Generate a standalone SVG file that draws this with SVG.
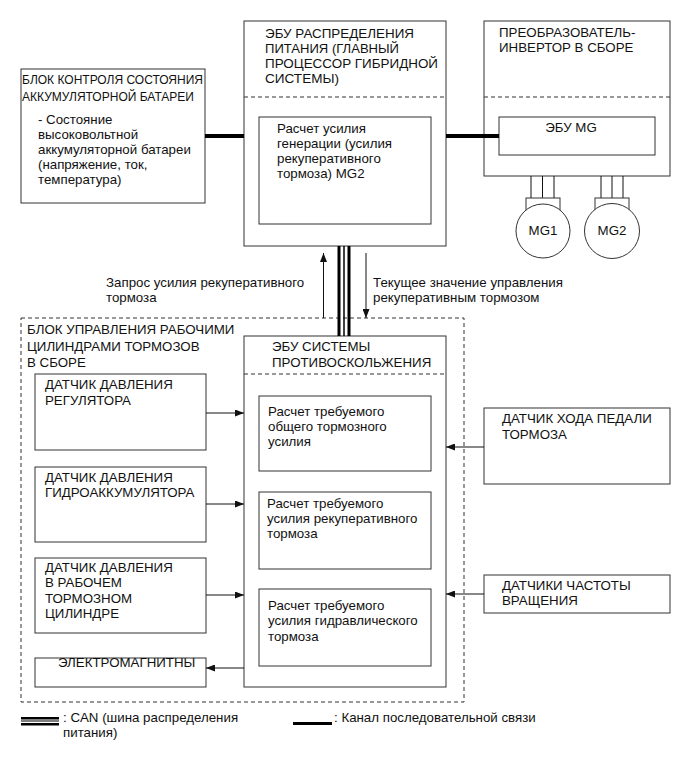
<svg xmlns="http://www.w3.org/2000/svg" width="691" height="757" viewBox="0 0 691 757">
<style>
.box{fill:#fff;stroke:#333;stroke-width:1}
.dl{fill:none;stroke:#333;stroke-width:1;stroke-dasharray:4 3}
text{font-family:"Liberation Sans",Arial,sans-serif;font-size:13.3px;fill:#111}
.mid{text-anchor:middle}
.ln{stroke:#111;stroke-width:1;fill:none}
.arr{stroke:#111;stroke-width:1;fill:none;marker-end:url(#ah)}
.serial{stroke:#000;stroke-width:4;fill:none}
.canT{stroke:#000;stroke-width:3;fill:none}
.cant{stroke:#000;stroke-width:1.5;fill:none}
</style>
<defs>
<marker id="ah" markerUnits="userSpaceOnUse" markerWidth="9" markerHeight="7" refX="9" refY="3.5" orient="auto">
<path d="M0,0 L9,3.5 L0,7 z" fill="#111"/>
</marker>
</defs>
<rect width="691" height="757" fill="#fff"/>

<g id="brake-block">
<rect class="dl" x="21" y="318" width="443" height="384"/>
<text x="27" y="334">БЛОК УПРАВЛЕНИЯ РАБОЧИМИ</text>
<text x="27" y="351">ЦИЛИНДРАМИ ТОРМОЗОВ</text>
<text x="27" y="367">В СБОРЕ</text>
</g>

<g id="battery">
<rect class="box" x="21" y="69" width="184" height="134"/>
<text x="22" y="84" textLength="181" lengthAdjust="spacingAndGlyphs">БЛОК КОНТРОЛЯ СОСТОЯНИЯ</text>
<text x="22" y="101" textLength="172" lengthAdjust="spacingAndGlyphs">АККУМУЛЯТОРНОЙ БАТАРЕИ</text>
<text x="38" y="124">- Состояние</text>
<text x="38" y="139">высоковольтной</text>
<text x="38" y="154">аккумуляторной батареи</text>
<text x="38" y="169">(напряжение, ток,</text>
<text x="38" y="184">температура)</text>
</g>

<g id="ecu-power">
<rect class="box" x="244" y="21" width="202" height="225"/>
<text x="265" y="38" textLength="149" lengthAdjust="spacingAndGlyphs">ЭБУ РАСПРЕДЕЛЕНИЯ</text>
<text x="265" y="53" textLength="134" lengthAdjust="spacingAndGlyphs">ПИТАНИЯ (ГЛАВНЫЙ</text>
<text x="265" y="68" textLength="173" lengthAdjust="spacingAndGlyphs">ПРОЦЕССОР ГИБРИДНОЙ</text>
<text x="265" y="83" textLength="74" lengthAdjust="spacingAndGlyphs">СИСТЕМЫ)</text>
<line class="dl" x1="244" y1="97" x2="446" y2="97"/>
<rect class="box" x="259" y="117" width="172" height="107"/>
<text x="277" y="133">Расчет усилия</text>
<text x="277" y="148">генерации (усилия</text>
<text x="277" y="163">рекуперативного</text>
<text x="277" y="178">тормоза) MG2</text>
</g>

<g id="inverter">
<rect class="box" x="484" y="21" width="186" height="155"/>
<text x="499" y="37">ПРЕОБРАЗОВАТЕЛЬ-</text>
<text x="499" y="52">ИНВЕРТОР В СБОРЕ</text>
<line class="dl" x1="484" y1="97" x2="670" y2="97"/>
<rect class="box" x="499" y="117" width="156" height="38"/>
<text class="mid" x="571" y="132">ЭБУ MG</text>
</g>

<g id="mg1">
<line class="ln" x1="531" y1="176" x2="531" y2="198"/>
<line class="ln" x1="542.5" y1="176" x2="542.5" y2="198"/>
<line class="ln" x1="554" y1="176" x2="554" y2="198"/>
<rect class="box" x="526" y="198" width="34" height="14"/>
<circle class="box" cx="543" cy="231" r="27"/>
<text class="mid" x="543" y="235">MG1</text>
</g>

<g id="mg2">
<line class="ln" x1="601" y1="176" x2="601" y2="198"/>
<line class="ln" x1="612" y1="176" x2="612" y2="198"/>
<line class="ln" x1="623" y1="176" x2="623" y2="198"/>
<rect class="box" x="595" y="198" width="34" height="14"/>
<circle class="box" cx="612" cy="231" r="27.5"/>
<text class="mid" x="612" y="235">MG2</text>
</g>

<g id="ecu-antiskid">
<rect class="box" x="244" y="336" width="202" height="351"/>
<text x="272" y="351">ЭБУ СИСТЕМЫ</text>
<text x="272" y="367">ПРОТИВОСКОЛЬЖЕНИЯ</text>
<line class="dl" x1="244" y1="374" x2="446" y2="374"/>
</g>

<g id="calc-total">
<rect class="box" x="259" y="396" width="172" height="75"/>
<text x="268" y="416">Расчет требуемого</text>
<text x="268" y="431">общего тормозного</text>
<text x="268" y="446">усилия</text>
</g>

<g id="calc-regen">
<rect class="box" x="259" y="492" width="172" height="77"/>
<text x="267" y="508">Расчет требуемого</text>
<text x="267" y="523">усилия рекуперативного</text>
<text x="267" y="538">тормоза</text>
</g>

<g id="calc-hydraulic">
<rect class="box" x="259" y="589" width="172" height="77"/>
<text x="268" y="610">Расчет требуемого</text>
<text x="268" y="625">усилия гидравлического</text>
<text x="268" y="641">тормоза</text>
</g>

<g id="sensor-regulator">
<rect class="box" x="35" y="374" width="171" height="76"/>
<text x="45" y="389">ДАТЧИК ДАВЛЕНИЯ</text>
<text x="45" y="405">РЕГУЛЯТОРА</text>
</g>

<g id="sensor-accumulator">
<rect class="box" x="35" y="467" width="171" height="75"/>
<text x="45" y="482">ДАТЧИК ДАВЛЕНИЯ</text>
<text x="45" y="497">ГИДРОАККУМУЛЯТОРА</text>
</g>

<g id="sensor-wheel-cylinder">
<rect class="box" x="35" y="558" width="171" height="75"/>
<text x="45" y="572">ДАТЧИК ДАВЛЕНИЯ</text>
<text x="45" y="587">В РАБОЧЕМ</text>
<text x="45" y="603">ТОРМОЗНОМ</text>
<text x="45" y="618">ЦИЛИНДРЕ</text>
</g>

<g id="solenoids">
<rect class="box" x="35" y="658" width="171" height="29"/>
<text x="58" y="667">ЭЛЕКТРОМАГНИТНЫ</text>
</g>

<g id="pedal-sensor">
<rect class="box" x="484" y="408" width="186" height="76"/>
<text x="502" y="423">ДАТЧИК ХОДА ПЕДАЛИ</text>
<text x="502" y="439">ТОРМОЗА</text>
</g>

<g id="speed-sensors">
<rect class="box" x="484" y="575" width="186" height="38"/>
<text x="502" y="590">ДАТЧИКИ ЧАСТОТЫ</text>
<text x="502" y="605">ВРАЩЕНИЯ</text>
</g>

<g id="connectors">
<line class="serial" x1="205" y1="136" x2="244" y2="136"/>
<line class="serial" x1="446" y1="136" x2="499" y2="136"/>
<line class="canT" x1="339" y1="246" x2="339" y2="336"/>
<line class="cant" x1="344" y1="246" x2="344" y2="336"/>
<line class="canT" x1="349" y1="246" x2="349" y2="336"/>
<line class="arr" x1="323.5" y1="318" x2="323.5" y2="253"/>
<line class="arr" x1="366" y1="253" x2="366" y2="318"/>
<line class="arr" x1="206" y1="413" x2="244" y2="413"/>
<line class="arr" x1="206" y1="504" x2="244" y2="504"/>
<line class="arr" x1="206" y1="595" x2="244" y2="595"/>
<line class="arr" x1="244" y1="668" x2="206" y2="668"/>
<line class="arr" x1="484" y1="447" x2="446" y2="447"/>
<line class="arr" x1="484" y1="594" x2="446" y2="594"/>
</g>

<g id="labels">
<text x="106" y="287">Запрос усилия рекуперативного</text>
<text x="106" y="302">тормоза</text>
<text x="373" y="287">Текущее значение управления</text>
<text x="373" y="302">рекуперативным тормозом</text>
</g>

<g id="legend">
<rect x="21" y="717" width="38" height="2.5" fill="#000"/>
<rect x="21" y="720.5" width="38" height="1" fill="#000"/>
<rect x="21" y="723" width="38" height="2.5" fill="#000"/>
<text x="63" y="722">: CAN (шина распределения</text>
<text x="63" y="737">питания)</text>
<line class="serial" x1="293" y1="723.5" x2="332" y2="723.5" style="stroke-width:3"/>
<text x="334" y="722">: Канал последовательной связи</text>
</g>
</svg>
